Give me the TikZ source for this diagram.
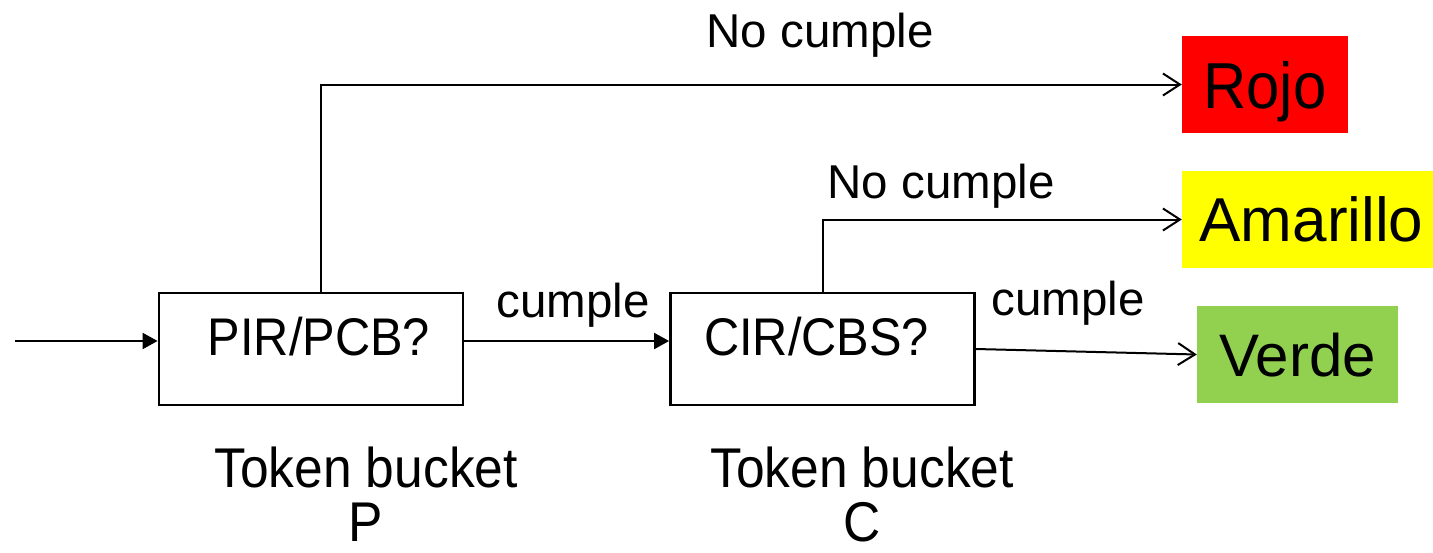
\documentclass[tikz,border=0pt]{standalone}
\usepackage{fontspec}
\setmainfont{Liberation Sans}
\newfontfamily\narrowfont[FakeStretch=0.92]{Liberation Sans}
\usetikzlibrary{arrows.meta}
\definecolor{rojo}{RGB}{255,0,0}
\definecolor{amarillo}{RGB}{255,255,0}
\definecolor{verde}{RGB}{146,208,80}

\begin{document}
\begin{tikzpicture}[x=1pt,y=-1pt,
  test/.style={draw, line width=2.8pt, minimum width=304pt, minimum height=112pt, inner sep=0pt,
    text height=38pt, text depth=26pt, font=\narrowfont\fontsize{53}{60}\selectfont},
  outbox/.style={minimum height=97pt, inner sep=0pt, text height=44pt, text depth=0pt},
  lbl/.style={anchor=base, font=\fontsize{47.5}{56}\selectfont},
  tbl/.style={anchor=base, inner sep=1pt, text depth=0pt, font=\narrowfont\fontsize{56}{62}\selectfont},
  conn/.style={line width=2pt},
  passarrow/.style={conn, -{Triangle[length=15pt,width=16pt]}},
  failarrow/.style={conn, -{Straight Barb[length=17pt,width=22pt]}}]
\useasboundingbox (0,0) rectangle (1433,552);
\node[test] (pcb) at (311,349) {\hspace*{16pt}PIR/PCB?};
\node[test] (cbs) at (822.5,349) {CIR/CBS?\hspace*{12pt}};
\node[outbox, fill=rojo, minimum width=166pt, text height=47pt, font=\narrowfont\fontsize{65}{70}\selectfont] (rojo) at (1265,84.5) {Rojo};
\node[outbox, fill=amarillo, minimum width=251pt, font=\fontsize{62}{70}\selectfont] (amarillo) at (1307.5,219.5) {\hspace*{8pt}Amarillo};
\node[outbox, fill=verde, minimum width=201pt, font=\fontsize{60}{70}\selectfont] (verde) at (1297.5,354.5) {Verde};
\node[lbl] (nc1) at (820,47) {No cumple};
\node[lbl] (nc2) at (941,198) {No cumple};
\node[lbl] (ok1) at (573,317) {cumple};
\node[lbl] (ok2) at (1068,315) {cumple};
\node[tbl] (tbp) at (366,487) {Token bucket};
\node[tbl] (tbpn) at (366,541) {P};
\node[tbl] (tbc) at (862,487) {Token bucket};
\node[tbl] (tbcn) at (862,541) {C};
\coordinate (in) at (15,341);
\draw[passarrow] (in) -- ([yshift=8pt]pcb.west);
\draw[passarrow] ([yshift=8pt]pcb.east) -- ([yshift=8pt]cbs.west);
\draw[failarrow] ([xshift=10pt]pcb.north) |- (rojo.west);
\draw[failarrow] (cbs.north) |- (amarillo.west);
\draw[failarrow] (cbs.east) -- (verde.west);
\end{tikzpicture}
\end{document}
